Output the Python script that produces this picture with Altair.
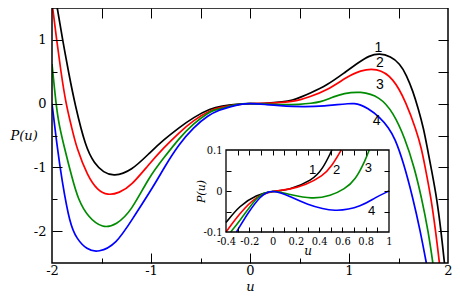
import altair as alt
import pandas as pd

# ---------------- data ----------------
U1 = [-2.0, -1.947, -1.893, -1.83, -1.77, -1.66, -1.57, -1.48, -1.377, -1.2, -1.0, -0.87, -0.72, -0.57,
      -0.4, -0.285, -0.14, 0.0, 0.14, 0.34, 0.43, 0.51, 0.6, 0.78, 0.95, 1.11, 1.2, 1.31, 1.42, 1.513,
      1.58, 1.647, 1.70, 1.755, 1.79, 1.84, 1.887, 1.93, 1.963, 2.0]
P1 = [2.0, 1.5, 1.0, 0.47, 0.0, -0.69, -0.94, -1.08, -1.14, -1.06, -0.75, -0.565, -0.38, -0.215,
      -0.077, -0.036, -0.009, 0.0, 0.002, 0.026, 0.053, 0.1, 0.16, 0.29, 0.48, 0.66, 0.75, 0.79, 0.74, 0.63,
      0.45, 0.19, -0.08, -0.40, -0.69, -1.09, -1.49, -2.0, -2.49, -3.0]

U2 = [-2.0, -1.993, -1.953, -1.91, -1.86, -1.80, -1.753, -1.64, -1.54, -1.437, -1.32, -1.2, -1.02, -0.87,
      -0.72, -0.57, -0.4, -0.285, -0.14, 0.0, 0.14, 0.285, 0.43, 0.51, 0.59, 0.78, 0.98, 1.11, 1.28, 1.447,
      1.58, 1.68, 1.73, 1.77, 1.83, 1.875, 1.913, 1.95]
P2 = [1.58, 1.5, 1.0, 0.5, 0.0, -0.38, -0.69, -1.14, -1.36, -1.44, -1.40, -1.29, -0.95, -0.69,
      -0.46, -0.26, -0.1, -0.055, -0.012, 0.0, 0.003, 0.015, 0.036, 0.061, 0.1, 0.21, 0.42, 0.52, 0.56, 0.41,
      0.01, -0.42, -0.69, -1.0, -1.49, -2.0, -2.49, -3.0]

U3 = [-2.0, -1.96, -1.93, -1.87, -1.80, -1.737, -1.637, -1.487, -1.35, -1.2, -1.02, -0.87, -0.72, -0.57,
      -0.42, -0.36, -0.285, -0.14, -0.07, 0.0, 0.07, 0.14, 0.34, 0.5, 0.62, 0.71, 0.80, 0.83, 0.947, 1.113,
      1.313, 1.447, 1.565, 1.66, 1.735, 1.80, 1.847, 1.89]
P3 = [0.62, 0.0, -0.33, -0.72, -1.15, -1.50, -1.78, -1.96, -1.90, -1.69, -1.15, -0.85, -0.55, -0.31,
      -0.14, -0.1, -0.074, -0.016, -0.004, 0.0, -0.003, -0.008, -0.02, -0.012, 0.005, 0.026, 0.077, 0.1, 0.16, 0.195,
      0.11, -0.14, -0.54, -1.0, -1.49, -2.0, -2.49, -3.0]

U4 = [-2.0, -1.947, -1.90, -1.82, -1.75, -1.65, -1.53, -1.35, -1.2, -0.96, -0.87, -0.72, -0.57, -0.42,
      -0.31, -0.2, -0.1, -0.05, 0.0, 0.07, 0.14, 0.285, 0.54, 0.77, 0.88, 1.0, 1.05, 1.12, 1.18, 1.313,
      1.40, 1.463, 1.55, 1.647, 1.72, 1.78, 1.83]
P4 = [0.0, -0.69, -1.2, -1.89, -2.12, -2.29, -2.34, -2.20, -1.84, -1.26, -1.01, -0.64, -0.37, -0.18,
      -0.1, -0.048, -0.012, -0.003, 0.0, -0.004, -0.012, -0.032, -0.053, -0.037, -0.016, 0.0, 0.003, -0.02, -0.065, -0.21,
      -0.38, -0.54, -0.92, -1.49, -2.0, -2.49, -2.9]

CURVES = ["1", "2", "3", "4"]
COLORS = ["#000000", "#ff0000", "#008c00", "#0000ff"]

MAIN_LAB_U = [1.297, 1.313, 1.313, 1.28]
MAIN_LAB_P = [0.87, 0.64, 0.29, -0.28]
INSET_LAB_U = [0.344, 0.549, 0.823, 0.85]
INSET_LAB_P = [0.052, 0.052, 0.056, -0.049]

# ---------------- tables ----------------
rows = []
for name, us, ps in zip(CURVES, [U1, U2, U3, U4], [P1, P2, P3, P4]):
    for u, p in zip(us, ps):
        rows.append({"u": u, "P": p, "curve": name})
df = pd.DataFrame(rows)
main_lab = pd.DataFrame({"u": MAIN_LAB_U, "P": MAIN_LAB_P, "t": CURVES})
inset_lab = pd.DataFrame({"u": INSET_LAB_U, "P": INSET_LAB_P, "t": CURVES})
one = pd.DataFrame({"k": [0]})

# ---------------- layout ----------------
W, H = 396, 255
IX0, IX1, IY0, IY1 = 174, 337, 142, 224
SERIF = "DejaVu Serif"
SERIF_N = "DejaVu Serif Condensed, DejaVu Serif"
SANS = "Liberation Sans, Arimo, DejaVu Sans, sans-serif"

xs_main = alt.Scale(domain=[-2, 2], nice=False, zero=False)
ys_main = alt.Scale(domain=[-2.5, 1.5], nice=False, zero=False)
xs_in = alt.Scale(domain=[-0.4, 1.0], range=[IX0, IX1], nice=False, zero=False)
ys_in = alt.Scale(domain=[-0.1, 0.1], range=[IY1, IY0], nice=False, zero=False)
color = alt.Color("curve:N", scale=alt.Scale(domain=CURVES, range=COLORS), legend=None)

LBL = "'' + datum.value"


def tick_axis(orient, offset, values, size, test=None, small=None):
    ts = size if test is None else {"condition": {"test": test, "value": size}, "value": small}
    return alt.Axis(orient=orient, offset=offset, values=values, labels=False, domain=False,
                    grid=False, title=None, ticks=True, tickColor="black", tickWidth=1,
                    tickSize=ts, zindex=1)


main_lines = alt.Chart(df).mark_line(clip=True, interpolate="basis", strokeWidth=1.7).encode(
    x=alt.X("u:Q", scale=xs_main, axis=alt.Axis(
        orient="bottom", values=[-2, -1, 0, 1, 2], labelExpr=LBL, ticks=False, domain=False, grid=False,
        labelPadding=1, labelFont=SERIF, labelFontSize=13, labelColor="black", labelFlush=False,
        labelOverlap=False, title="u", titleFont=SERIF, titleFontSize=13, titleFontStyle="italic",
        titleFontWeight="normal", titleColor="black", titleY=27, titleBaseline="alphabetic", zindex=1)),
    y=alt.Y("P:Q", scale=ys_main, axis=alt.Axis(
        orient="left", values=[-2, -1, 0, 1], labelExpr=LBL, ticks=False, domain=False, grid=False,
        labelPadding=6, labelFont=SERIF, labelFontSize=13, labelColor="black", labelOverlap=False,
        title="P(u)", titleFont=SERIF, titleFontSize=13, titleFontStyle="italic", titleFontWeight="normal",
        titleColor="black", titleAngle=0, titleAlign="left", titleBaseline="middle", titleX=-42,
        titleY=H / 2, zindex=1)),
    color=color,
)

main_ticks_a = alt.Chart(df).mark_point(opacity=0).encode(
    x=alt.X("u:Q", scale=xs_main, axis=tick_axis("top", -H, [-1.5, -1, -0.5, 0, 0.5, 1, 1.5], 10,
                                                 "datum.value % 1 === 0", 5)),
    y=alt.Y("P:Q", scale=ys_main, axis=tick_axis("right", -W, [-2, -1.5, -1, -0.5, 0, 0.5, 1], 10,
                                                 "datum.value % 1 === 0", 5)),
)
main_ticks_b = alt.Chart(df).mark_point(opacity=0).encode(
    x=alt.X("u:Q", scale=xs_main, axis=tick_axis("bottom", -H, [-1.5, -1, -0.5, 0, 0.5, 1, 1.5], 10)),
    y=alt.Y("P:Q", scale=ys_main, axis=tick_axis("left", -W, [-2, -1.5, -1, -0.5, 0, 0.5, 1], 10)),
)

main_frame = alt.Chart(one).mark_rect(fillOpacity=0, stroke="black", strokeWidth=1.5).encode(
    x=alt.value(0), x2=alt.value(W), y=alt.value(0), y2=alt.value(H))

main_text = alt.Chart(main_lab).mark_text(font=SANS, fontSize=14, color="black", align="center",
                                           baseline="middle").encode(
    x=alt.X("u:Q", scale=xs_main, axis=None), y=alt.Y("P:Q", scale=ys_main, axis=None), text="t:N")

inset_bg = alt.Chart(one).mark_rect(fill="white").encode(
    x=alt.value(IX0), x2=alt.value(IX1), y=alt.value(IY0), y2=alt.value(IY1))

inset_lines = alt.Chart(df).transform_filter(
    "datum.u >= -0.401 && datum.u <= 1.001 && datum.P >= -0.1005 && datum.P <= 0.1005"
).mark_line(interpolate="basis", strokeWidth=1.6).encode(
    x=alt.X("u:Q", scale=xs_in, axis=alt.Axis(
        orient="bottom", offset=IY1 - H, values=[-0.4, -0.2, 0, 0.2, 0.4, 0.6, 0.8, 1], labelExpr=LBL,
        ticks=False, domain=False, grid=False, labelPadding=3, labelFont=SERIF_N, labelFontSize=11,
        labelColor="black", labelFlush=False, labelOverlap=False, title="u", titleFont=SERIF,
        titleFontSize=12, titleFontStyle="italic", titleFontWeight="normal", titleColor="black",
        titleY=22, titleBaseline="alphabetic", zindex=1)),
    y=alt.Y("P:Q", scale=ys_in, axis=alt.Axis(
        orient="left", offset=-IX0, values=[-0.1, 0, 0.1], labelExpr=LBL, ticks=False, domain=False,
        grid=False, labelPadding=4, labelFont=SERIF_N, labelFontSize=11, labelColor="black",
        labelOverlap=False, title="P(u)", titleFont=SERIF, titleFontSize=11, titleFontStyle="italic",
        titleFontWeight="normal", titleColor="black", titleAngle=270, titleBaseline="bottom",
        titleX=-20, zindex=1)),
    color=color,
)

IN_XT = [-0.3, -0.2, -0.1, 0, 0.1, 0.2, 0.3, 0.4, 0.5, 0.6, 0.7, 0.8, 0.9]
IN_YT = [-0.05, 0, 0.05]
inset_ticks_a = alt.Chart(df).mark_point(opacity=0).encode(
    x=alt.X("u:Q", scale=xs_in, axis=tick_axis("top", -IY1, IN_XT, 5)),
    y=alt.Y("P:Q", scale=ys_in, axis=tick_axis("right", IX0 - W, IN_YT, 5)),
)
inset_ticks_b = alt.Chart(df).mark_point(opacity=0).encode(
    x=alt.X("u:Q", scale=xs_in, axis=tick_axis("bottom", IY0 - H, IN_XT, 5)),
    y=alt.Y("P:Q", scale=ys_in, axis=tick_axis("left", -IX1, IN_YT, 5)),
)

inset_frame = alt.Chart(one).mark_rect(fillOpacity=0, stroke="black", strokeWidth=1.3).encode(
    x=alt.value(IX0), x2=alt.value(IX1), y=alt.value(IY0), y2=alt.value(IY1))

inset_text = alt.Chart(inset_lab).mark_text(font=SANS, fontSize=13, color="black", align="center",
                                             baseline="middle").encode(
    x=alt.X("u:Q", scale=xs_in, axis=None), y=alt.Y("P:Q", scale=ys_in, axis=None), text="t:N")

chart = alt.layer(
    main_lines, main_ticks_a, main_ticks_b, main_frame, main_text,
    inset_bg, inset_lines, inset_ticks_a, inset_ticks_b, inset_frame, inset_text,
).resolve_scale(x="independent", y="independent").properties(
    width=W, height=H,
    padding={"left": 44, "top": 0, "right": 4, "bottom": 29},
    autosize=alt.AutoSizeParams(type="none"),
).configure_view(stroke="transparent")

chart.save("out.html", embed_options={"renderer": "svg", "actions": False})
